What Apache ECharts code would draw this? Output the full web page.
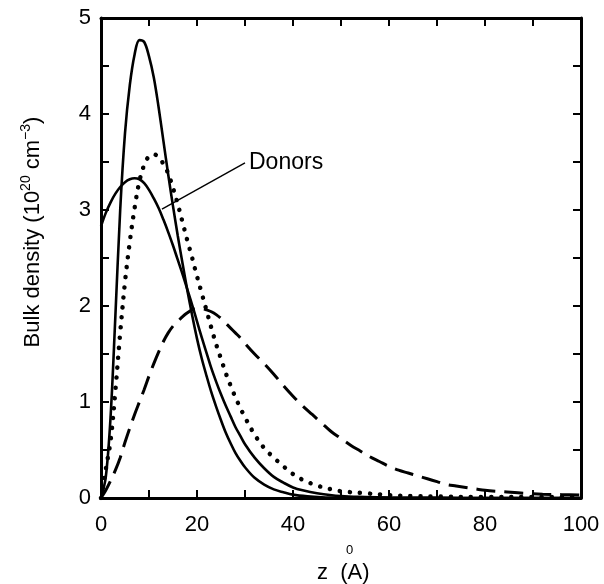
<!DOCTYPE html>
<html>
<head>
<meta charset="utf-8">
<script src="https://cdn.jsdelivr.net/npm/echarts@6/dist/echarts.min.js"></script>
<style>
html,body{margin:0;padding:0;background:#fff;}
#c{width:604px;height:584px;}
</style>
</head>
<body>
<div id="c"></div>
<script>
// Tall solid curve
const zA = [0,1,2,3,4,5,6,7,8,9,10,11,12,13,14,15,16,17,18,19,20,21,22,23,24,25,26,27,28,29,30,32,34,36,38,40,43,46,50,60,70,80,90,100];
const yA = [0,0.22,0.85,1.9,3.0,3.8,4.3,4.62,4.77,4.75,4.6,4.38,4.07,3.72,3.37,3.04,2.73,2.44,2.16,1.9,1.66,1.45,1.27,1.1,0.95,0.81,0.68,0.57,0.47,0.39,0.32,0.21,0.14,0.09,0.06,0.035,0.017,0.008,0.004,0.002,0.001,0,0,0];
// Donors solid curve
const zB = [0,1,2,3,4,5,6,7,8,9,10,11,12,13,14,15,16,17,18,19,20,21,22,23,24,25,26,27,28,29,30,32,34,36,38,40,42,45,50,55,60,70,80,90,100];
const yB = [2.83,2.97,3.08,3.17,3.24,3.29,3.32,3.33,3.32,3.28,3.21,3.12,3.02,2.9,2.77,2.63,2.48,2.33,2.17,2.01,1.84,1.67,1.51,1.35,1.21,1.08,0.96,0.85,0.74,0.65,0.56,0.42,0.31,0.22,0.16,0.11,0.08,0.05,0.02,0.01,0.005,0.002,0,0,0];
// Dotted curve
const zC = [0,1,2,3,4,5,6,7,8,9,10,11,12,13,14,15,16,17,18,19,20,21,22,23,24,25,26,27,28,29,30,32,34,36,38,40,42,45,48,50,55,60,65,70,80,90,100];
const yC = [0,0.3,0.6,1.12,1.72,2.25,2.67,3.02,3.3,3.47,3.56,3.58,3.55,3.48,3.38,3.23,3.06,2.87,2.68,2.5,2.31,2.13,1.95,1.77,1.6,1.45,1.3,1.17,1.05,0.94,0.84,0.66,0.52,0.42,0.33,0.25,0.19,0.13,0.09,0.07,0.05,0.03,0.02,0.015,0.01,0.01,0.01];
// Dashed curve
const zD = [0,1,2,3,4,5,6,7,8,9,10,11,12,13,14,15,16,17,18,19,20,21,22,23,24,25,26,27,28,29,30,32,34,36,38,40,42,44,46,48,50,52,54,56,58,60,62,64,66,68,70,72,74,76,78,80,84,88,92,96,100];
const yD = [0,0.08,0.18,0.29,0.42,0.58,0.73,0.87,1.0,1.13,1.27,1.4,1.52,1.63,1.72,1.79,1.84,1.89,1.93,1.96,1.97,1.97,1.96,1.94,1.91,1.87,1.82,1.77,1.72,1.67,1.61,1.5,1.4,1.29,1.17,1.06,0.96,0.87,0.78,0.69,0.62,0.55,0.49,0.43,0.38,0.33,0.29,0.26,0.23,0.2,0.17,0.14,0.125,0.11,0.095,0.08,0.065,0.05,0.04,0.035,0.03];
// Annotation leader (data coords)
const leaderZ = [12.7, 30];
const leaderY = [3.01, 3.49];
const leaderText = 'Donors';

const xTicks = {min:0, max:100, interval:10, labelEvery:20};
const yTicks = {min:0, max:5, interval:0.5, labelEvery:1};

const FONT = 'Liberation Sans, Arial, Helvetica, sans-serif';
const pair = (z, y) => z.map((v, i) => [v, y[i]]);

const chart = echarts.init(document.getElementById('c'), null, {renderer:'canvas'});

const axisCommon = {
  type:'value',
  axisLine:{show:true, onZero:false, lineStyle:{color:'#000', width:3}},
  axisTick:{show:true, inside:true, length:8, lineStyle:{color:'#000', width:2}},
  splitLine:{show:false}
};

const option = {
  backgroundColor:'#fff',
  animation:false,
  grid:{left:101, right:23, top:18, bottom:86, containLabel:false},
  xAxis:[
    Object.assign({}, axisCommon, {
      position:'bottom', min:xTicks.min, max:xTicks.max, interval:xTicks.interval,
      axisLabel:{show:true, margin:16, fontSize:22, color:'#000', fontFamily:FONT,
        formatter:v => (v % xTicks.labelEvery === 0 ? String(v) : '')}
    }),
    Object.assign({}, axisCommon, {
      position:'top', min:xTicks.min, max:xTicks.max, interval:xTicks.interval,
      axisLabel:{show:false}
    })
  ],
  yAxis:[
    Object.assign({}, axisCommon, {
      position:'left', min:yTicks.min, max:yTicks.max, interval:yTicks.interval,
      axisLabel:{show:true, margin:10, fontSize:22, color:'#000', fontFamily:FONT,
        formatter:v => (Math.abs(v % yTicks.labelEvery) < 1e-9 ? String(v) : '')}
    }),
    Object.assign({}, axisCommon, {
      position:'right', min:yTicks.min, max:yTicks.max, interval:yTicks.interval,
      axisLabel:{show:false}
    })
  ],
  series:[
    {type:'line', name:'A', data:pair(zA, yA), showSymbol:false, smooth:0.35,
      lineStyle:{color:'#000', width:2.6}, z:3},
    {type:'line', name:'B', data:pair(zB, yB), showSymbol:false, smooth:0.35,
      lineStyle:{color:'#000', width:2.6}, z:3},
    {type:'line', name:'C', data:pair(zC, yC), showSymbol:false, smooth:0.35,
      lineStyle:{color:'#000', width:4.5, type:[0.1, 10], cap:'round'}, z:3},
    {type:'line', name:'D', data:pair(zD, yD), showSymbol:false, smooth:0.35,
      lineStyle:{color:'#000', width:3, type:[19, 9]}, z:3},
    {type:'line', name:'leader', data:pair(leaderZ, leaderY), showSymbol:false, symbol:'none',
      lineStyle:{color:'#000', width:1.4}, z:4,
      endLabel:{show:true, formatter:leaderText, color:'#000', fontSize:23, fontFamily:FONT, distance:4}}
  ],
  graphic:[
    {type:'text', left:317, top:562, style:{text:'z  (A)', font:'22px ' + FONT, fill:'#000'}},
    {type:'text', left:346, top:544, style:{text:'0', font:'13px ' + FONT, fill:'#000'}},
    {type:'text', x:33, y:232, rotation:Math.PI/2,
      style:{
        text:'{n|Bulk density (10}{s|20}{n| cm}{s|\u22123}{n|)}',
        align:'center', verticalAlign:'middle',
        rich:{
          n:{fontSize:22, fontFamily:FONT, fill:'#000', color:'#000'},
          s:{fontSize:14, fontFamily:FONT, fill:'#000', color:'#000', padding:[0,0,14,0]}
        }
      }}
  ]
};
chart.setOption(option);
</script>
</body>
</html>
